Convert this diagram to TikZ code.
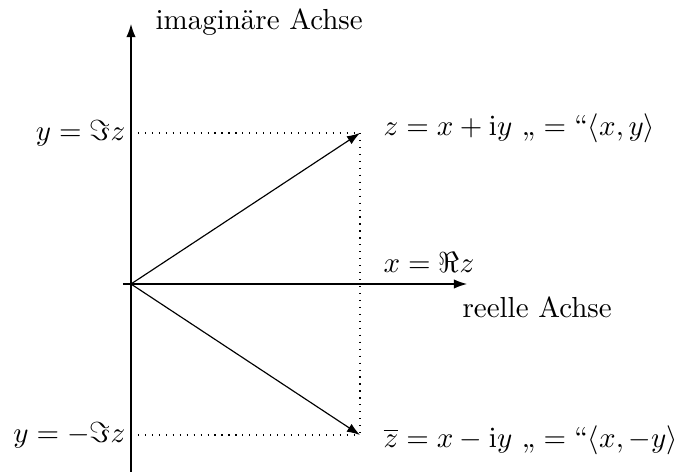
\documentclass[tikz,border=0pt]{standalone}
\usepackage{amsmath}
\usetikzlibrary{arrows.meta}
\begin{document}
\begin{tikzpicture}[x=0.345pt,y=-0.345pt,
  axis/.style={-{Latex[length=4.5pt,width=3.2pt]},line width=0.4pt},
  vec/.style={-{Latex[length=4.5pt,width=3.2pt]},line width=0.4pt},
  guide/.style={dotted,line width=0.4pt},
  lbl/.style={inner sep=0pt}]
\useasboundingbox (0,0) rectangle (678,474);
\coordinate (O) at (131,284);
\coordinate (ybot) at (131,472);
\coordinate (ytop) at (131,24);
\coordinate (xl) at (123,284);
\coordinate (xr) at (467,284);
\coordinate (Z) at (360,133);
\coordinate (Zb) at (360,435);
\coordinate (Yp) at (131,133);
\coordinate (Ym) at (131,435);
\draw[guide] (Yp) -- (Z);
\draw[guide] (Ym) -- (Zb);
\draw[guide] (Z) -- (Zb);
\draw[axis] (ybot) -- (ytop);
\draw[axis] (xl) -- (xr);
\draw[vec] (O) -- (Z);
\draw[vec] (O) -- (Zb);
\node[lbl,anchor=west] (im) at (155,22) {imaginäre Achse};
\node[lbl,anchor=north west] (re) at (462,296) {reelle Achse};
\node[lbl,anchor=east] (iy) at (126,133) {$y=\Im z$};
\node[lbl,anchor=east] (iym) at (126,435) {$y=-\Im z$};
\node[lbl,anchor=west] (zl) at (383,128) {$z=x+\mathrm{i}y\ \text{„}={}\text{“}\langle x,y\rangle$};
\node[lbl,anchor=west] (zbl) at (383,440) {$\overline{z}=x-\mathrm{i}y\ \text{„}={}\text{“}\langle x,-y\rangle$};
\node[lbl,anchor=west] (xl2) at (383,262) {$x=\Re z$};
\end{tikzpicture}
\end{document}
